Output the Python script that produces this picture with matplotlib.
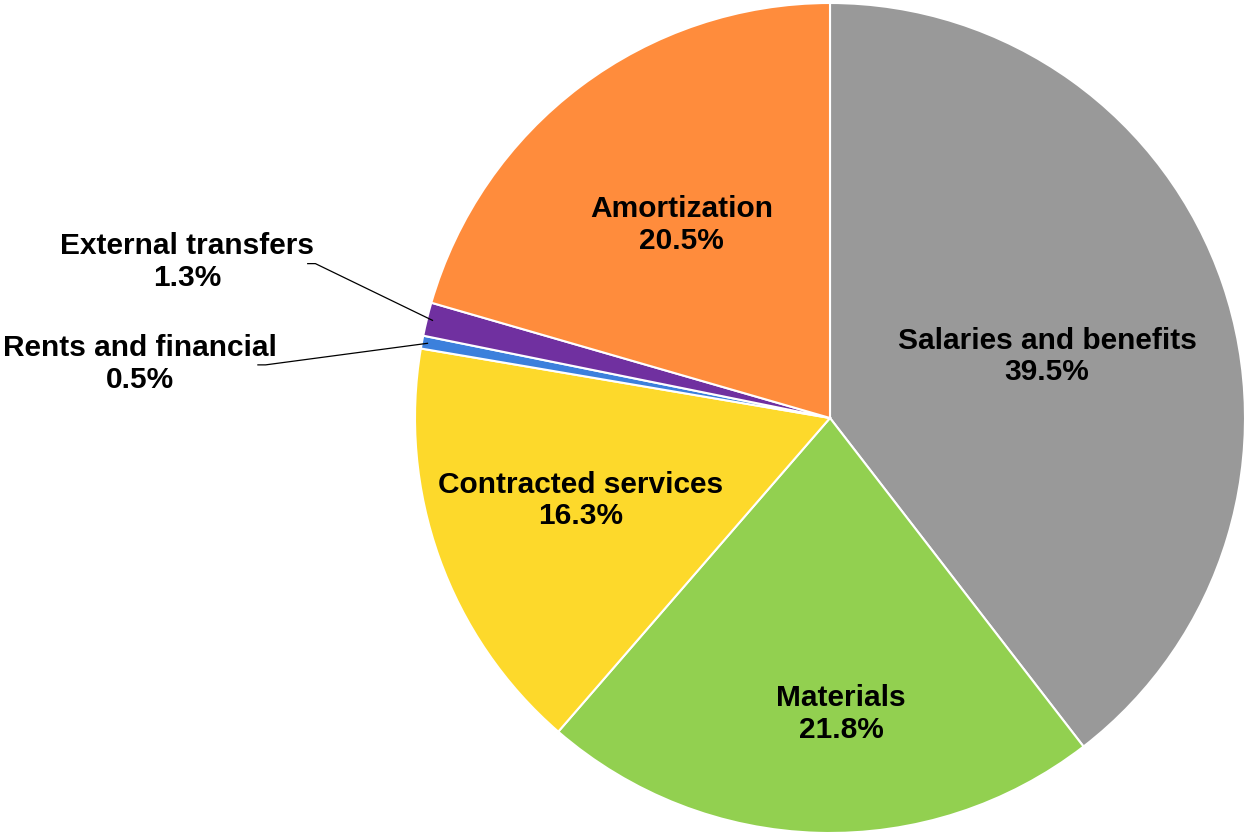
import numpy as np
import matplotlib
matplotlib.use("Agg")
import matplotlib.pyplot as plt

categories = ["Salaries and benefits", "Materials", "Contracted services",
              "Rents and financial", "External transfers", "Amortization"]
shares = [39.5, 21.8, 16.3, 0.5, 1.3, 20.5]
colors = ["#999999", "#92D050", "#FDD92B", "#3C80DC", "#7030A0", "#FF8C3C"]

# label centres in data units (pie radius = 1)
label_xy = [(0.523, 0.149), (0.027, -0.713), (-0.600, -0.198),
            (-1.663, 0.130), (-1.549, 0.376), (-0.357, 0.465)]
# leader-line elbow for labels placed outside the pie
leader_elbow = {"External transfers": (-1.24, 0.372),
                "Rents and financial": (-1.36, 0.128)}

plt.rcParams["font.family"] = ["Liberation Sans", "DejaVu Sans"]
FS = 21.5

fig = plt.figure(figsize=(12.49, 8.33), dpi=100)
W, H = 1249, 833
cx, cy, r = 830, 415, 415
ax = fig.add_axes([(cx - r) / W, (cy - r) / H, 2 * r / W, 2 * r / H])

wedges, _ = ax.pie(shares, colors=colors, startangle=90, counterclock=False,
                   radius=1.0, center=(0, 0),
                   wedgeprops=dict(edgecolor="white", linewidth=1.5))
ax.set_xlim(-1, 1)
ax.set_ylim(-1, 1)
ax.set_aspect("equal")
ax.axis("off")

for w, name, val, (tx, ty) in zip(wedges, categories, shares, label_xy):
    label = f"{name}\n{val:.1f}%"
    ax.text(tx, ty, label, ha="center", va="center", fontsize=FS,
            fontweight="bold", linespacing=1.15, color="black",
            clip_on=False)
    if name in leader_elbow:
        ang = np.deg2rad((w.theta1 + w.theta2) / 2)
        ex, ey = leader_elbow[name]
        px, py = 0.985 * np.cos(ang), 0.985 * np.sin(ang)
        ax.plot([ex - 0.02, ex, px], [ey, ey, py], color="black", lw=0.9,
                clip_on=False, solid_capstyle="butt")

fig.savefig("out.png", dpi=100, facecolor="white")
